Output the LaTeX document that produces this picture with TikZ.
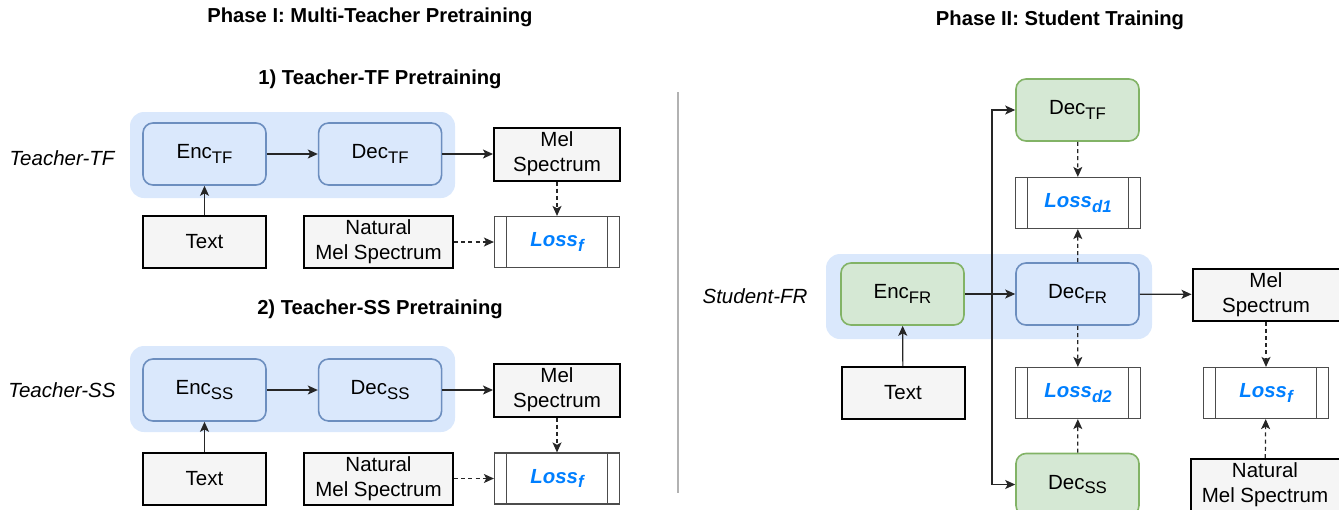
\documentclass[tikz,border=0pt]{standalone}
\usepackage{fontspec}
\setmainfont{Liberation Sans}
\usetikzlibrary{arrows.meta,positioning}
\definecolor{bgblue}{HTML}{DAE8FC}
\definecolor{edgeblue}{HTML}{6C8EBF}
\definecolor{bggreen}{HTML}{D5E8D4}
\definecolor{edgegreen}{HTML}{82B366}
\definecolor{boxgray}{HTML}{F5F5F5}
\definecolor{lossblue}{HTML}{007FFF}
\newcommand{\lowsub}[1]{\raisebox{-0.45ex}{\fontsize{8.4}{9}\selectfont #1}}
\tikzstyle{bluebox} = [rectangle, rounded corners=5pt, minimum width=61.5pt, minimum height=31pt, inner sep=0pt, text centered, draw=edgeblue, fill=bgblue, line width=0.8pt]
\tikzstyle{greenbox} = [bluebox, draw=edgegreen, fill=bggreen]
\tikzstyle{graybox} = [rectangle, minimum width=61.5pt, minimum height=26pt, inner sep=0pt, align=center, draw=black, fill=boxgray, line width=1pt]
\tikzstyle{lossbox} = [rectangle, minimum width=62.5pt, minimum height=25.5pt, inner sep=0pt, draw=black!70, line width=0.6pt, text=lossblue, font=\bfseries\itshape\fontsize{10.2}{11}\selectfont,
  path picture={\draw[black!70, line width=0.6pt] ([xshift=6pt]path picture bounding box.north west) -- ([xshift=6pt]path picture bounding box.south west) ([xshift=-6pt]path picture bounding box.north east) -- ([xshift=-6pt]path picture bounding box.south east);}]
\tikzstyle{panel} = [fill=bgblue, rounded corners=7pt]
\tikzstyle{title} = [font=\bfseries\fontsize{10.1}{11}\selectfont]
\tikzstyle{model} = [font=\itshape\fontsize{10.25}{12}\selectfont]
\tikzstyle{arrow} = [-{Stealth[length=5pt,width=4.5pt,inset=1.2pt]}, line width=0.6pt, black!85]
\tikzstyle{dasharrow} = [arrow, dash pattern=on 2pt off 1.6pt]

\begin{document}
\begin{tikzpicture}[x=0.5pt, y=-0.5pt, font=\fontsize{10.25}{12.5}\selectfont]
\useasboundingbox (0,0) rectangle (1339,509);

\node[title] (ph1) at (370,17) {Phase I: Multi-Teacher Pretraining};
\node[title] (ph2) at (1060,20) {Phase II: Student Training};
\node[title] (st1) at (380,79) {1) Teacher-TF Pretraining};
\node[title] (st2) at (380,309) {2) Teacher-SS Pretraining};
\draw[black!30, line width=0.6pt] (678,92) -- (678,493);

\fill[panel] (130,112) rectangle (455,198);
\node[model] (tf) at (62,158) {Teacher-TF};
\node[bluebox] (enctf) at (204.5,154) {Enc\lowsub{TF}};
\node[bluebox, right=25.5pt of enctf] (dectf) {Dec\lowsub{TF}};
\node[graybox, minimum width=63pt, minimum height=26.5pt] (meltf) at (557,154) {Mel\\Spectrum};
\node[graybox] (texttf) at (204.5,242) {Text};
\node[graybox, minimum width=74.5pt] (nattf) at (378.5,242) {Natural\\Mel Spectrum};
\node[lossbox] (losstf) at (557,242) {Loss\lowsub{f}};

\draw[arrow] (enctf) -- (dectf);
\draw[arrow] (dectf) -- (meltf);
\draw[arrow] (texttf) -- (enctf);
\draw[dasharrow] (meltf) -- (losstf);
\draw[dasharrow] (nattf) -- (losstf);

\fill[panel] (130,346) rectangle (455,432);
\node[model] (ss) at (62,390) {Teacher-SS};
\node[bluebox] (encss) at (204.5,390) {Enc\lowsub{SS}};
\node[bluebox, right=25.5pt of encss] (decss) {Dec\lowsub{SS}};
\node[graybox, minimum width=63pt, minimum height=26.5pt] (melss) at (557,390) {Mel\\Spectrum};
\node[graybox] (textss) at (204.5,478.5) {Text};
\node[graybox, minimum width=74.5pt] (natss) at (378.5,478.5) {Natural\\Mel Spectrum};
\node[lossbox] (lossss) at (557,478.5) {Loss\lowsub{f}};

\draw[arrow] (encss) -- (decss);
\draw[arrow] (decss) -- (melss);
\draw[arrow] (textss) -- (encss);
\draw[dasharrow] (melss) -- (lossss);
\draw[dasharrow] (natss) -- (lossss);

\fill[panel] (826,254) rectangle (1152,339);
\node[model] (fr) at (755,296) {Student-FR};
\node[greenbox] (encfr) at (902.5,294) {Enc\lowsub{FR}};
\node[bluebox] (decfr) at (1077.5,294) {Dec\lowsub{FR}};
\node[greenbox] (tdec) at (1077.5,110) {Dec\lowsub{TF}};
\node[greenbox] (sdec) at (1077.5,484.5) {Dec\lowsub{SS}};
\node[lossbox] (lossd1) at (1078,203) {Loss\lowsub{d1}};
\node[lossbox] (lossd2) at (1078,393) {Loss\lowsub{d2}};
\node[graybox, minimum width=73.5pt] (melfr) at (1266,294.5) {Mel\\Spectrum};
\node[graybox] (textfr) at (903,393) {Text};
\node[lossbox] (lossfr) at (1266,393) {Loss\lowsub{f}};
\node[graybox, minimum width=74.5pt] (natfr) at (1265,485) {Natural\\Mel Spectrum};
\coordinate (split) at (992,294);

\draw[arrow] (encfr) -- (decfr);
\draw[arrow] (split) |- (tdec);
\draw[arrow] (split) |- (sdec);
\draw[arrow] (decfr) -- (melfr);
\draw[arrow] (textfr) -- (encfr);
\draw[dasharrow] (tdec) -- (lossd1);
\draw[dasharrow] (decfr) -- (lossd1);
\draw[dasharrow] (decfr) -- (lossd2);
\draw[dasharrow] (sdec) -- (lossd2);
\draw[dasharrow] (melfr) -- (lossfr);
\draw[dasharrow] (natfr) -- (lossfr);
\end{tikzpicture}
\end{document}
